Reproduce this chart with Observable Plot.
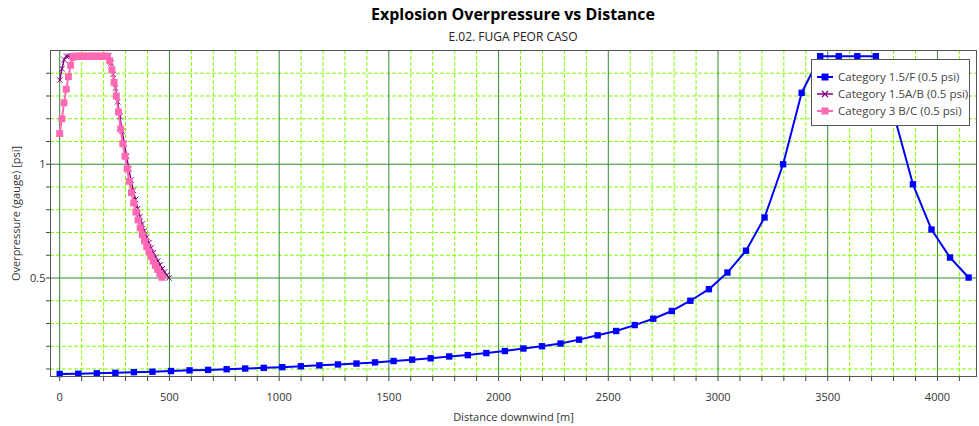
<!DOCTYPE html>
<html>
<head>
<meta charset="utf-8">
<script src="https://cdn.jsdelivr.net/npm/d3@7"></script>
<script src="https://cdn.jsdelivr.net/npm/@observablehq/plot@0.6"></script>
<style>
  body { margin: 0; background: #fff; font-family: "Open Sans", "Noto Sans", sans-serif; }
  #wrap { position: relative; width: 979px; height: 426px; overflow: hidden; }
  .title { position: absolute; left: 50px; width: 926px; top: 3px; text-align: center;
           font-weight: bold; font-size: 16px; color: #000; line-height: 22px; }
  .subtitle { position: absolute; left: 50px; width: 926px; top: 29px; text-align: center;
              font-size: 12px; color: #222; line-height: 16px; }
  #plot { position: absolute; left: 0; top: 44px; }
  #legend { position: absolute; left: 811px; top: 59px; }
</style>
</head>
<body>
<div id="wrap">
  <div class="title">Explosion Overpressure vs Distance</div>
  <div class="subtitle">E.02. FUGA PEOR CASO</div>
  <div id="plot"></div>
  <div id="legend"></div>
</div>
<script>
// Distance downwind [m] and overpressure [psi] for each weather category
const blueX = [0, 84.5, 169.1, 253.6, 338.1, 422.7, 507.2, 591.7, 676.2, 760.8, 845.3, 929.8,
  1014.4, 1098.9, 1183.4, 1268.0, 1352.5, 1437.0, 1521.5, 1606.1, 1690.6, 1775.1, 1859.7, 1944.2,
  2028.7, 2113.3, 2197.8, 2282.3, 2366.8, 2451.4, 2535.9, 2620.4, 2705.0, 2789.5, 2874.0, 2958.6,
  3043.1, 3127.6, 3212.1, 3296.7, 3381.2, 3465.7, 3550.3, 3634.8, 3719.3, 3803.9, 3888.4, 3972.9,
  4057.4, 4142.0];
const blueY = [0.078, 0.079, 0.081, 0.083, 0.086, 0.088, 0.091, 0.094, 0.096, 0.099, 0.102, 0.105,
  0.108, 0.112, 0.116, 0.120, 0.124, 0.129, 0.135, 0.141, 0.147, 0.155, 0.161, 0.170,
  0.179, 0.190, 0.200, 0.212, 0.229, 0.248, 0.267, 0.293, 0.321, 0.355, 0.400, 0.451,
  0.524, 0.620, 0.766, 1.000, 1.314, 1.475, 1.475, 1.475, 1.475, 1.210, 0.912, 0.713,
  0.590, 0.502];

const purpleX = [0, 10.2, 20.3, 30.5, 40.6, 50.8, 61.0, 71.1, 81.3, 91.4, 101.6, 111.8, 121.9,
  132.1, 142.2, 152.4, 162.6, 172.7, 182.9, 193.0, 203.2, 213.4, 223.5, 233.7, 243.8, 254.0,
  264.2, 274.3, 284.5, 294.6, 304.8, 315.0, 325.1, 335.3, 345.4, 355.6, 365.8, 375.9, 386.1,
  396.2, 406.4, 416.6, 426.7, 436.9, 447.0, 457.2, 467.4, 477.5, 487.7, 497.8];
const purpleY = [1.37, 1.42, 1.46, 1.475, 1.475, 1.475, 1.475, 1.475, 1.475, 1.475, 1.475, 1.475,
  1.475, 1.475, 1.475, 1.475, 1.475, 1.475, 1.475, 1.475, 1.475, 1.475, 1.475, 1.445, 1.395,
  1.335, 1.275, 1.21, 1.145, 1.09, 1.035, 0.98, 0.93, 0.885, 0.845, 0.805, 0.77, 0.737, 0.707,
  0.68, 0.655, 0.632, 0.611, 0.592, 0.574, 0.557, 0.541, 0.526, 0.513, 0.500];

const pinkX = [0, 9.9, 19.8, 29.7, 39.6, 49.6, 59.5, 69.4, 79.3, 89.2, 99.1, 109.0, 118.9, 128.8,
  138.7, 148.7, 158.6, 168.5, 178.4, 188.3, 198.2, 208.1, 218.0, 227.9, 237.8, 247.8, 257.7,
  267.6, 277.5, 287.4, 297.3, 307.2, 317.1, 327.0, 336.9, 346.9, 356.8, 366.7, 376.6, 386.5,
  396.4, 406.3, 416.2, 426.1, 436.0, 446.0, 455.9, 465.8];
const pinkY = [1.135, 1.20, 1.27, 1.33, 1.385, 1.435, 1.47, 1.475, 1.475, 1.475, 1.475, 1.475,
  1.475, 1.475, 1.475, 1.475, 1.475, 1.475, 1.475, 1.475, 1.475, 1.475, 1.475, 1.455, 1.415,
  1.36, 1.30, 1.23, 1.155, 1.09, 1.035, 0.98, 0.925, 0.875, 0.83, 0.79, 0.755, 0.72, 0.69,
  0.663, 0.638, 0.615, 0.594, 0.574, 0.555, 0.538, 0.52, 0.503];

const seriesNames = ["Category 1.5/F (0.5 psi)", "Category 1.5A/B (0.5 psi)", "Category 3 B/C (0.5 psi)"];
const seriesColors = ["#0000ff", "#800080", "#ff69b4"];

// Axis ticks and grid positions
const xMajorTicks = [0, 500, 1000, 1500, 2000, 2500, 3000, 3500, 4000];
const xMinorTicks = [100, 200, 300, 400, 600, 700, 800, 900, 1100, 1200, 1300, 1400, 1600, 1700,
  1800, 1900, 2100, 2200, 2300, 2400, 2600, 2700, 2800, 2900, 3100, 3200, 3300, 3400, 3600, 3700,
  3800, 3900, 4100];
const yMajorTicks = [0.5, 1];
const yMinorTicks = [0.1, 0.2, 0.3, 0.4, 0.6, 0.7, 0.8, 0.9, 1.1, 1.2, 1.3, 1.4];

const toRows = (xs, ys) => xs.map((x, i) => ({x, y: ys[i]}));
const blue = toRows(blueX, blueY);
const purple = toRows(purpleX, purpleY);
const pink = toRows(pinkX, pinkY);

const font = '"Open Sans", "Noto Sans", sans-serif';
const minorGrid = {stroke: "#7cfc00", strokeOpacity: 1, strokeWidth: 1, strokeDasharray: "4,2"};
const majorGrid = {stroke: "#2e8b2e", strokeOpacity: 1, strokeWidth: 1};

const chart = Plot.plot({
  width: 979,
  height: 382,
  marginTop: 6,
  marginBottom: 50,
  marginLeft: 50,
  marginRight: 3,
  style: {fontFamily: font, fontSize: "11px", color: "#333", background: "#fff"},
  x: {domain: [-42, 4178]},
  y: {domain: [0.067, 1.5]},
  marks: [
    Plot.gridX(xMinorTicks, minorGrid),
    Plot.gridY(yMinorTicks, minorGrid),
    Plot.gridX(xMajorTicks, majorGrid),
    Plot.gridY(yMajorTicks, majorGrid),
    Plot.axisX(xMinorTicks, {tickSize: 5, stroke: "#444", tickFormat: () => "", label: null}),
    Plot.axisX(xMajorTicks, {tickSize: 5, stroke: "#444", tickPadding: 12, tickFormat: d => String(d),
      label: "Distance downwind [m]", labelAnchor: "center", labelOffset: 44, labelArrow: "none"}),
    Plot.axisY(yMinorTicks, {tickSize: 4, stroke: "#444", tickFormat: () => "", label: null}),
    Plot.axisY(yMajorTicks, {tickSize: 4, stroke: "#444", tickPadding: 1, tickFormat: d => String(d),
      label: "Overpressure (gauge) [psi]", labelAnchor: "center", labelOffset: 38, labelArrow: "none"}),
    Plot.line(blue, {x: "x", y: "y", stroke: seriesColors[0], strokeWidth: 2}),
    Plot.dot(blue, {x: "x", y: "y", symbol: "square", r: 3.6, fill: seriesColors[0], stroke: null}),
    Plot.line(purple, {x: "x", y: "y", stroke: seriesColors[1], strokeWidth: 1.5}),
    Plot.dot(purple, {x: "x", y: "y", symbol: "times", r: 2.6, stroke: seriesColors[1], strokeWidth: 1}),
    Plot.line(pink, {x: "x", y: "y", stroke: seriesColors[2], strokeWidth: 2}),
    Plot.dot(pink, {x: "x", y: "y", symbol: "square", r: 3.9, fill: seriesColors[2], stroke: null}),
    Plot.frame({stroke: "#555", strokeWidth: 1})
  ]
});
document.getElementById("plot").appendChild(chart);

// Legend box drawn in the upper right corner of the plot area
const lw = 158, lh = 66;
const legend = d3.select("#legend").append("svg")
  .attr("width", lw + 2).attr("height", lh + 2)
  .style("font-family", font);
legend.append("rect").attr("x", 0.5).attr("y", 0.5).attr("width", lw).attr("height", lh)
  .attr("fill", "#fff").attr("stroke", "#555");
const rows = legend.selectAll("g").data(seriesNames).join("g")
  .attr("transform", (d, i) => `translate(0,${18 + i * 17})`);
rows.append("line").attr("x1", 6).attr("x2", 22).attr("y1", 0).attr("y2", 0)
  .attr("stroke", (d, i) => seriesColors[i]).attr("stroke-width", (d, i) => i === 1 ? 1.5 : 2);
rows.each(function(d, i) {
  const g = d3.select(this);
  if (i === 1) {
    g.append("path").attr("d", "M11,-3L17,3M11,3L17,-3").attr("stroke", seriesColors[i]).attr("stroke-width", 1.2);
  } else {
    g.append("rect").attr("x", 10.5).attr("y", -3.5).attr("width", 7).attr("height", 7).attr("fill", seriesColors[i]);
  }
});
rows.append("text").attr("x", 27).attr("y", 0).attr("dy", "0.35em")
  .attr("font-size", 11.5).attr("fill", "#444").text(d => d);
</script>
</body>
</html>
